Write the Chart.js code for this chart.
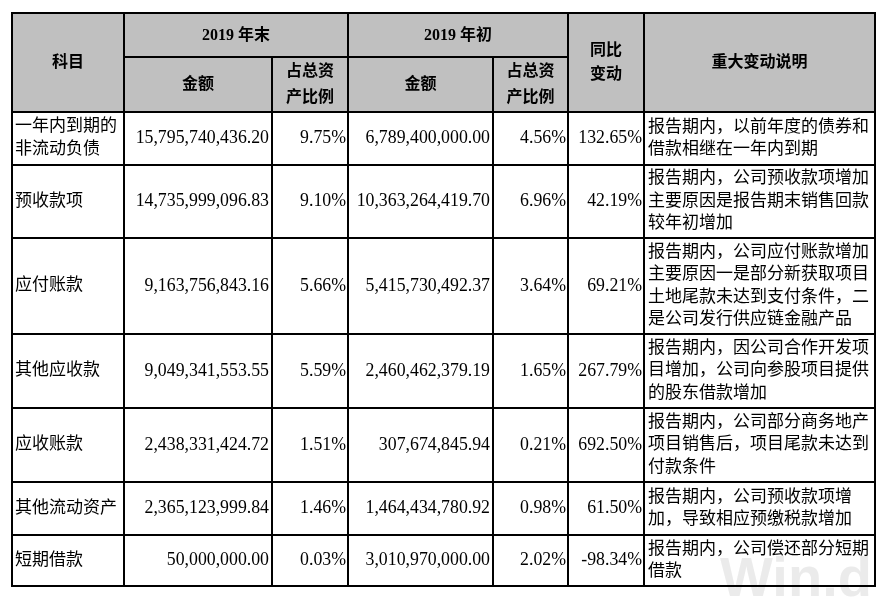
<!DOCTYPE html>
<html>
<head>
<meta charset="utf-8">
<script src="https://cdn.jsdelivr.net/npm/chart.js@4.4.1/dist/chart.umd.min.js"></script>
<style>
    html, body { margin: 0; padding: 0; background: #fff; }
    #wrap { width: 889px; height: 598px; }
</style>
</head>
<body>
<div id="wrap"><canvas id="chart" width="889" height="598"></canvas></div>
<script>
// dados da tabela
const subjects = ['一年内到期的\n非流动负债', '预收款项', '应付账款', '其他应收款', '应收账款', '其他流动资产', '短期借款'];
const endAmounts = [15795740436.20, 14735999096.83, 9163756843.16, 9049341553.55, 2438331424.72, 2365123999.84, 50000000.00];
const endRatios = [9.75, 9.10, 5.66, 5.59, 1.51, 1.46, 0.03];
const startAmounts = [6789400000.00, 10363264419.70, 5415730492.37, 2460462379.19, 307674845.94, 1464434780.92, 3010970000.00];
const startRatios = [4.56, 6.96, 3.64, 1.65, 0.21, 0.98, 2.02];
const yoyChanges = [132.65, 42.19, 69.21, 267.79, 692.50, 61.50, -98.34];
const notes = [
    ['报告期内，以前年度的债券和', '借款相继在一年内到期'],
    ['报告期内，公司预收款项增加', '主要原因是报告期末销售回款', '较年初增加'],
    ['报告期内，公司应付账款增加', '主要原因一是部分新获取项目', '土地尾款未达到支付条件，二', '是公司发行供应链金融产品'],
    ['报告期内，因公司合作开发项', '目增加，公司向参股项目提供', '的股东借款增加'],
    ['报告期内，公司部分商务地产', '项目销售后，项目尾款未达到', '付款条件'],
    ['报告期内，公司预收款项增', '加，导致相应预缴税款增加'],
    ['报告期内，公司偿还部分短期', '借款']
];
const headerTop = ['2019 年末', '2019 年初'];
const headerSub = ['金额', '占总资\n产比例', '金额', '占总资\n产比例'];

// layout da grade (em pixels do canvas)
const colEdges = [12, 124, 272, 348, 493, 568, 644, 875];
const rowEdges = [13, 57, 112, 165, 238, 334, 408, 482, 535, 586];

const FONT = '"Liberation Serif", "Noto Sans CJK SC", serif';

function fmtAmount(v) {
    return v.toLocaleString('en-US', { minimumFractionDigits: 2, maximumFractionDigits: 2 });
}
function fmtPct(v) {
    return v.toFixed(2) + '%';
}

const tablePlugin = {
    id: 'tablePlugin',
    afterDraw(chart) {
        const ctx = chart.ctx;
        const sx = chart.scales.x, sy = chart.scales.y;
        const px = v => sx.getPixelForValue(v);
        const py = v => sy.getPixelForValue(v);

        function lines(text, x, yc, align, lh) {
            const arr = Array.isArray(text) ? text : String(text).split('\n');
            const y0 = yc - (arr.length - 1) * lh / 2;
            ctx.textAlign = align;
            ctx.textBaseline = 'middle';
            arr.forEach((t, i) => ctx.fillText(t, x, y0 + i * lh));
        }

        ctx.save();

        // marca d'água
        ctx.fillStyle = 'rgba(205,205,205,0.4)';
        ctx.font = 'bold 56px "Liberation Sans", sans-serif';
        ctx.textAlign = 'left';
        ctx.textBaseline = 'alphabetic';
        ctx.fillText('Win.d', px(720), py(596));

        // fundo do cabeçalho
        ctx.fillStyle = '#c0c0c0';
        ctx.fillRect(px(colEdges[0]), py(rowEdges[0]), px(colEdges[7]) - px(colEdges[0]), py(rowEdges[2]) - py(rowEdges[0]));

        // textos do cabeçalho
        ctx.fillStyle = '#000';
        ctx.font = 'bold 16px ' + FONT;
        const mid = (a, b) => (px(a) + px(b)) / 2;
        const midY = (a, b) => (py(a) + py(b)) / 2;
        lines('科目', mid(colEdges[0], colEdges[1]), midY(rowEdges[0], rowEdges[2]), 'center', 24);
        lines(headerTop[0], mid(colEdges[1], colEdges[3]), midY(rowEdges[0], rowEdges[1]) + 1, 'center', 24);
        lines(headerTop[1], mid(colEdges[3], colEdges[5]), midY(rowEdges[0], rowEdges[1]) + 1, 'center', 24);
        headerSub.forEach((h, i) => {
            lines(h, mid(colEdges[1 + i], colEdges[2 + i]), midY(rowEdges[1], rowEdges[2]), 'center', 26);
        });
        lines('同比\n变动', mid(colEdges[5], colEdges[6]), midY(rowEdges[0], rowEdges[2]), 'center', 24);
        lines('重大变动说明', mid(colEdges[6], colEdges[7]), midY(rowEdges[0], rowEdges[2]), 'center', 24);

        // linhas de dados
        const lh = 22.5;
        subjects.forEach((s, i) => {
            const yc = midY(rowEdges[2 + i], rowEdges[3 + i]);
            ctx.font = '17px ' + FONT;
            lines(s, px(colEdges[0]) + 3, yc, 'left', 23);
            ctx.font = '17.8px ' + FONT;
            lines(fmtAmount(endAmounts[i]), px(colEdges[2]) - 3, yc, 'right', lh);
            lines(fmtPct(endRatios[i]), px(colEdges[3]) - 2, yc, 'right', lh);
            lines(fmtAmount(startAmounts[i]), px(colEdges[4]) - 3, yc, 'right', lh);
            lines(fmtPct(startRatios[i]), px(colEdges[5]) - 2, yc, 'right', lh);
            lines(fmtPct(yoyChanges[i]), px(colEdges[6]) - 2, yc, 'right', lh);
            ctx.font = '17px ' + FONT;
            lines(notes[i], px(colEdges[6]) + 4, yc, 'left', lh);
        });

        // grade
        ctx.strokeStyle = '#000';
        ctx.lineWidth = 2;
        ctx.beginPath();
        const hline = (y, x1, x2) => { ctx.moveTo(px(x1), py(y)); ctx.lineTo(px(x2), py(y)); };
        const vline = (x, y1, y2) => { ctx.moveTo(px(x), py(y1)); ctx.lineTo(px(x), py(y2)); };
        rowEdges.forEach((y, i) => {
            if (i === 1) hline(y, colEdges[1], colEdges[5]);
            else hline(y, colEdges[0] - 1, colEdges[7] + 1);
        });
        colEdges.forEach((x, i) => {
            if (i === 2 || i === 4) vline(x, rowEdges[1], rowEdges[9]);
            else vline(x, rowEdges[0], rowEdges[9]);
        });
        ctx.stroke();

        ctx.restore();
    }
};

const chart = new Chart(document.getElementById('chart').getContext('2d'), {
    type: 'scatter',
    data: { datasets: [{ data: [] }] },
    options: {
        responsive: false,
        animation: false,
        layout: { padding: 0 },
        plugins: { legend: { display: false }, tooltip: { enabled: false } },
        scales: {
            x: { type: 'linear', min: 0, max: 889, display: false },
            y: { type: 'linear', min: 0, max: 598, reverse: true, display: false }
        }
    },
    plugins: [tablePlugin]
});
</script>
</body>
</html>
